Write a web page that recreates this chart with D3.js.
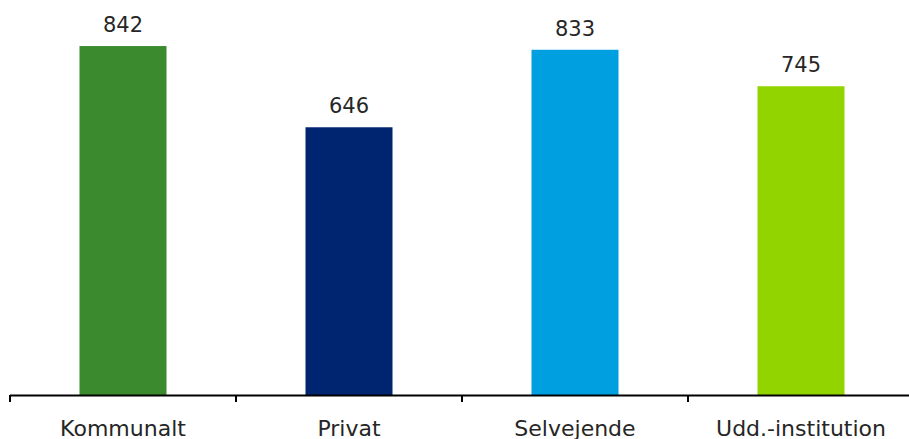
<!DOCTYPE html>
<html><head><meta charset="utf-8">
<script src="https://cdn.jsdelivr.net/npm/d3@7"></script>
<style>body{margin:0;background:#fff}svg{display:block}</style>
</head><body>
<svg id="c" width="909" height="439"></svg>
<script>
const categories = ["Kommunalt", "Privat", "Selvejende", "Udd.-institution"];
const values = [842, 646, 833, 745];
const colors = ["#3c8a2e", "#002570", "#009fe0", "#92d400"];

const svg = d3.select("#c");
const x = d3.scaleBand().domain(categories).range([10, 914]).paddingInner(0.615).paddingOuter(0.3075);
const y = d3.scaleLinear().domain([0, 900]).range([395, 22]);

svg.selectAll("rect.bar").data(values).enter().append("rect")
  .attr("x", (d,i) => x(categories[i]))
  .attr("width", x.bandwidth())
  .attr("y", d => y(d))
  .attr("height", d => y(0) - y(d))
  .attr("fill", (d,i) => colors[i]);

svg.selectAll("text.val").data(values).enter().append("text")
  .attr("x", (d,i) => x(categories[i]) + x.bandwidth()/2)
  .attr("y", d => y(d) - 14)
  .attr("text-anchor", "middle")
  .attr("font-family", "DejaVu Sans, Verdana, sans-serif")
  .attr("font-size", 21)
  .attr("fill", "#262626")
  .text(d => d);

// axis
const step = x.step();
const ax = svg.append("g");
ax.append("line").attr("x1", 10).attr("x2", 909).attr("y1", 395.5).attr("y2", 395.5)
  .attr("stroke", "#000").attr("stroke-width", 2);
const tickXs = d3.range(categories.length + 1).map(i => 10 + i * step);
ax.selectAll("line.t").data(tickXs).enter().append("line")
  .attr("x1", d => d).attr("x2", d => d).attr("y1", 395).attr("y2", 402)
  .attr("stroke", "#000").attr("stroke-width", 2);

svg.selectAll("text.cat").data(categories).enter().append("text")
  .attr("x", d => x(d) + x.bandwidth()/2)
  .attr("y", 436)
  .attr("text-anchor", "middle")
  .attr("font-family", "DejaVu Sans, Verdana, sans-serif")
  .attr("font-size", 22)
  .attr("fill", "#262626")
  .text(d => d);
</script>
</body></html>
